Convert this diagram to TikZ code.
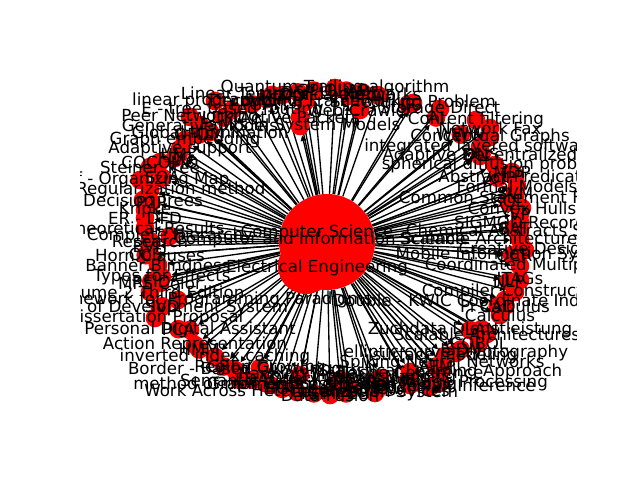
\documentclass[tikz,border=0pt]{standalone}
\usepackage{fontspec}
\setmainfont{DejaVu Sans}
\usetikzlibrary{arrows.meta}
\pgfdeclarelayer{edges}
\pgfdeclarelayer{labels}
\pgfsetlayers{edges,main,labels}

\begin{document}
\begin{tikzpicture}[
  x=0.75pt, y=-0.75pt,
  hub/.style={circle, fill=red, inner sep=0pt, minimum size=72pt},
  topic/.style={circle, fill=red, inner sep=0pt, minimum size=14pt},
  lbl/.style={inner sep=0pt, font=\fontsize{12.5}{15}\selectfont},
  arrow/.style={-{Triangle[length=4.2pt,width=4.2pt]}, line width=1pt}
]
\useasboundingbox (0,0) rectangle (640,480);
\node[hub, minimum size=42pt] (ee) at (306,266) {};
\node[hub] (cs) at (327,242) {};
\node[topic] (cis) at (320,240) {};
% topics that can be read
\foreach \px/\py/\txt [count=\i] in {
  335/88/Quantum Trailing algorithm, 272/95/Linear Temporal Logic,
  350/96/Optical Networks, 215/101/linear programming,
  305/102/Decoupling Framework, 413/103/Scheduling Problem,
  232/110/E - tree based routing, 440/109/Storage Direct,
  360/110/Web Crawler, 190/117/Peer Networking,
  300/117/Active Packets, 476/120/Content filtering,
  200/125/Generative Models, 300/126/Faults in System Models,
  490/128/Network Fax, 210/132/Global Illumination,
  490/137/Conceptual Graphs, 185/140/Graph embedding,
  480/147/integrated layered software, 180/149/Adaptive support,
  480/156/Adaptive Decentralized, 175/158/FDC,
  160/162/COCOMO, 150/167/Steiner Tree,
  495/165/spherical diffusion problem, 140/180/Self - Organizing Map,
  512/172/MDP, 515/176/Abstract Predicate,
  150/190/New Regularization method, 517/186/Formal Models,
  143/200/Decision Trees, 515/193/SVM,
  515/197/Common Statement Format, 145/210/Kripke,
  522/208/Convex Hulls, 520/214/VP,
  145/218/ER - DFD, 520/222/SIGMOD Record,
  145/228/Theoretical Results, 520/230/Chemical Abstracts Service,
  170/236/Complete Hierarchy, 520/240/Scalable Architecture Design,
  150/241/Research, 150/246/BVH,
  150/255/Horn Clauses, 512/255/Mobile Information Systems,
  525/250/Creative Design, 158/265/Banner Blindness,
  520/266/Coordinated Multipoint, 162/277/Types for Effects,
  520/280/JTAGs, 160/283/MPS Color,
  150/292/Volume 2 Third Edition, 515/292/Compiler Construction,
  178/300/A New Framework for Programming Paradigms,
  505/300/Double - KWIC Coordinate Index for Titles,
  505/306/Pi Calculus, 160/308/Model of Development System,
  500/315/Calculus, 155/318/Dissertation Proposal,
  190/330/Personal Digital Assistant, 470/330/Zuchdata Dienstleistung,
  487/334/Scalable Architectures, 195/345/Action Representation,
  479/343/COBOL, 456/353/elliptic curve cryptography,
  445/356/surface modeling, 215/357/inverted index caching,
  442/363/Spiking Neural Networks, 235/370/Border - Based Clustering,
  440/372/Statistical Learning Approach, 440/383/Medical Image Processing,
  430/387/Fuzzy Bayesian Inference, 265/383/method of moments estimation,
  375/393/Localization System, 297/392/Work Across Heterogeneous Devices,
  260/368/Region Growing, 300/375/Ranking Model,
  340/380/Query Expansion, 380/378/Ontology Mapping,
  410/372/Cache Coherence, 240/380/Semantic Web,
  330/395/Data Fusion, 350/388/Peer Review,
  270/385/Graph Coloring, 410/385/Text Mining}{
  \node[topic] (t\i) at (\px,\py) {};
  \begin{pgfonlayer}{edges}
    \draw[arrow] (cs) -- (t\i);
  \end{pgfonlayer}
  \begin{pgfonlayer}{labels}
    \begin{scope}
      \clip (80,57.6) rectangle (576,422.4);
      \node[lbl] (l\i) at (t\i) {\txt};
    \end{scope}
  \end{pgfonlayer}
}
% topics lost in the ring
\foreach \a/\txt [count=\j] in {
  75/RDF, 80/XML, 85/OLAP, 95/GPU, 100/DSP, 105/MIMO, 110/VLSI, 115/FPGA,
  125/LDPC, 135/OFDM, 145/UML, 155/SOA, 165/P2P, 185/QoS, 195/RFID,
  205/SVD, 215/PCA, 225/HMM, 235/CRF, 245/LDA, 255/BGP, 265/TCP,
  275/MPEG, 285/JPEG, 295/WSN, 305/ATM, 315/ISDN, 325/LAN, 335/CAD,
  345/NLP, 355/OCR, 5/SAT, 15/SQL, 25/VoIP, 35/DNS, 45/WWW, 55/AI, 65/IR}{
  \node[topic] (x\j) at ({330+185*cos(\a)},{242-152*sin(\a)}) {};
  \begin{pgfonlayer}{edges}
    \draw[arrow] (cs) -- (x\j);
  \end{pgfonlayer}
  \begin{pgfonlayer}{labels}
    \node[lbl] (m\j) at (x\j) {\txt};
  \end{pgfonlayer}
}
\begin{pgfonlayer}{labels}
  \node[lbl] (cslbl) at (317,233) {Computer Science};
  \node[lbl] (cislbl) at (cis) {Computer and Information Science};
  \node[lbl] (eelbl) at (317,268) {Electrical Engineering};
\end{pgfonlayer}
\end{tikzpicture}
\end{document}
